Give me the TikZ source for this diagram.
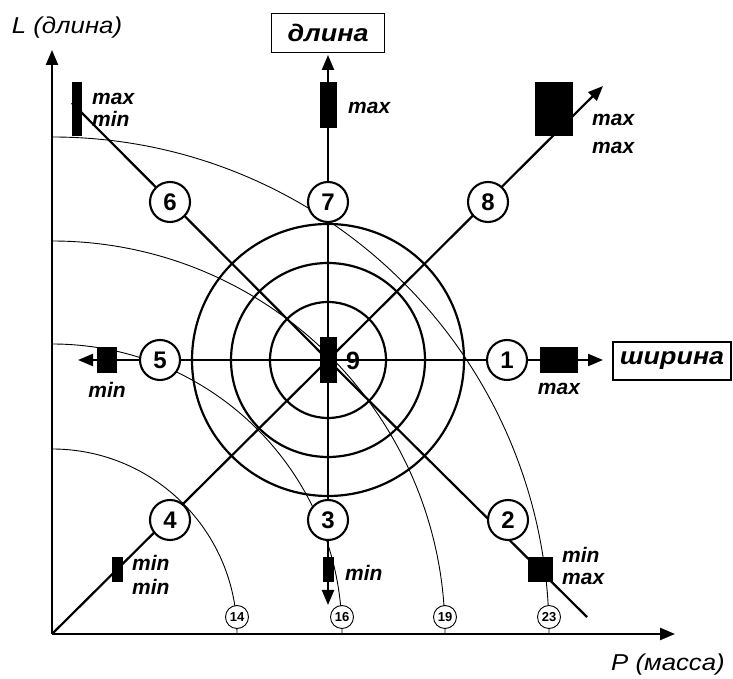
\documentclass[tikz,border=0pt]{standalone}
\usepackage{fontspec}
\setmainfont{Liberation Sans}
\newfontfamily\widefont[FakeStretch=1.12]{Liberation Sans}
\usetikzlibrary{arrows.meta}
\pgfdeclarelayer{background}
\pgfsetlayers{background,main}

\tikzset{
  num/.style={circle, draw, line width=2.1pt, fill=white, minimum size=40pt, inner sep=0pt,
    font=\fontsize{24}{24}\selectfont\bfseries},
  mass/.style={circle, draw, line width=0.9pt, fill=white, minimum size=23pt, inner sep=0pt,
    font=\fontsize{13}{13}\selectfont\bfseries},
  bar/.style={fill=black, inner sep=0pt},
  lab/.style={font=\fontsize{21}{22}\selectfont\bfseries\itshape, align=left, inner sep=0pt},
  dirbox/.style={draw, line width=1.6pt, fill=white, inner sep=0pt,
    font=\widefont\fontsize{24}{24}\selectfont\bfseries\itshape},
  axlab/.style={font=\widefont\fontsize{23}{23}\selectfont\itshape},
  ray/.style={line width=2.2pt},
  tip/.style={-{Triangle[length=15pt,width=12pt]}},
}

\begin{document}
\begin{tikzpicture}[x=1pt, y=1pt]
    \useasboundingbox (-52,-45) rectangle (681,634);
    \coordinate (O) at (0,0);
    \coordinate (C) at (276,274);
    \coordinate (Ltop) at (0,584);
    \coordinate (Pend) at (623,0);
    % ends of the rays
    \coordinate (e1) at (551,274);
    \coordinate (e2) at (535,17);
    \coordinate (e3) at (276,29);
    \coordinate (e5) at (26,274);
    \coordinate (e6) at (20,531);
    \coordinate (e7) at (276,579);
    \coordinate (e8) at (551,548);

    % bars
    \node[bar, minimum width=17pt, minimum height=46pt] (r9) at (C) {};
    \node[bar, minimum width=17pt, minimum height=46pt] (r7) at (276,529) {};
    \node[bar, minimum width=38pt, minimum height=54pt] (r8) at (502,525) {};
    \node[bar, minimum width=38pt, minimum height=26pt] (r1) at (507,274) {};
    \node[bar, minimum width=25pt, minimum height=25pt] (r2) at (488,64) {};
    \node[bar, minimum width=11pt, minimum height=25pt] (r3) at (276,64) {};
    \node[bar, minimum width=11pt, minimum height=25pt] (r4) at (65,64) {};
    \node[bar, minimum width=20pt, minimum height=26pt] (r5) at (55,274) {};
    \node[bar, minimum width=10pt, minimum height=54pt] (r6) at (25,525) {};

    % numbered circles
    \node[num] (n1) at (455,274) {1};
    \node[num] (n2) at (456,114) {2};
    \node[num] (n3) at (276,114) {3};
    \node[num] (n4) at (118,114) {4};
    \node[num] (n5) at (108,274) {5};
    \node[num] (n6) at (118,432) {6};
    \node[num] (n7) at (276,432) {7};
    \node[num] (n8) at (436,432) {8};
    \node[font=\fontsize{25}{25}\selectfont\bfseries] (n9) at (301,273) {9};

    % mass marks on the P axis
    \foreach \r/\m in {185/14, 290/16, 393/19, 497/23}
      \node[mass] (m\m) at (\r,17) {\m};

    \begin{pgfonlayer}{background}
      \foreach \r in {185, 290, 393, 497}
        \draw[line width=0.9pt] (0,\r) arc[start angle=90, end angle=0, radius=\r];
      \foreach \r in {58, 97, 136}
        \draw[ray] (C) circle[radius=\r];
      \draw[ray, tip] (r9.center) -- (e1);
      \draw[ray] (r9.center) -- (e2);
      \draw[ray, tip] (r9.center) -- (e3);
      \draw[ray] (r9.center) -- (O);
      \draw[ray, tip] (r9.center) -- (e5);
      \draw[ray] (r9.center) -- (e6);
      \draw[ray, tip] (r9.center) -- (e7);
      \draw[ray, tip] (r9.center) -- (e8);
      \draw[ray, tip] (O) -- (Ltop);
      \draw[ray, tip] (O) -- (Pend);
    \end{pgfonlayer}

    % labels
    \node[lab, anchor=west] (t7) at (296,526) {max};
    \node[lab, anchor=west] (t8) at (540,500) {max\\[6pt]max};
    \node[lab] (t1) at (507,245) {max};
    \node[lab, anchor=west] (t2) at (510,68) {min\\max};
    \node[lab, anchor=west] (t3) at (293,61) {min};
    \node[lab, anchor=west] (t4) at (80,59) {min\\[2pt]min};
    \node[lab] (t5) at (55,244) {min};
    \node[lab, anchor=west] (t6) at (40,524) {max\\min};

    \node[dirbox, minimum width=113pt, minimum height=39pt] (len) at (276,601) {длина};
    \node[dirbox, minimum width=118pt, minimum height=38pt] (wid) at (620,273) {ширина};

    \node[axlab] (Llab) at (15,606) {L (длина)};
    \node[axlab] (Plab) at (616,-31) {P (масса)};
\end{tikzpicture}
\end{document}
